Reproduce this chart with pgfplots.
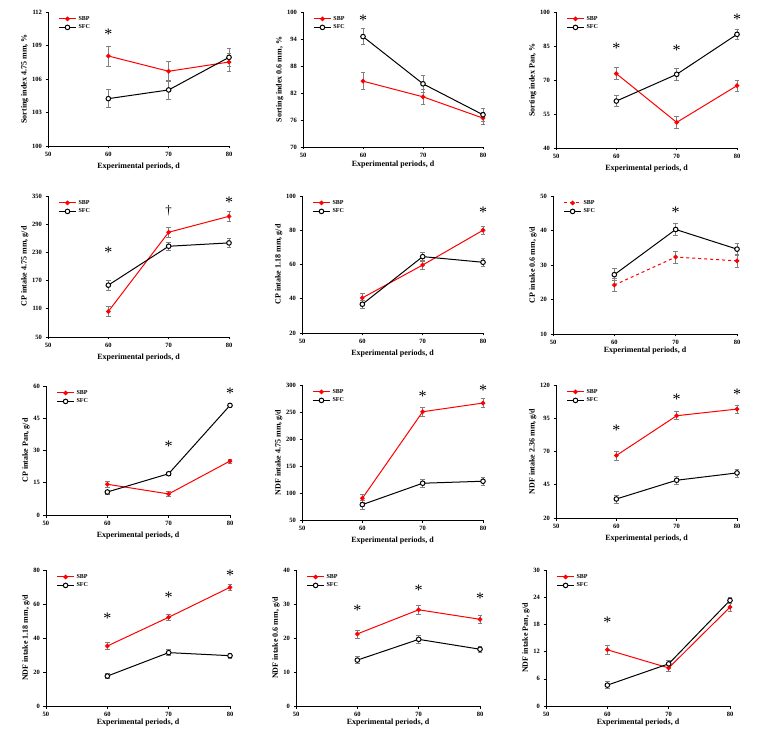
\documentclass[border=0pt]{standalone}
\usepackage{fontspec}
\setmainfont{Liberation Serif}
\usepackage{pgfplots}
\pgfplotsset{compat=1.18}

\pgfplotsset{
  panel/.style={
    scale only axis, clip=false,
    anchor=south west,
    xmin=50, xmax=80, xtick={50,60,70,80},
    axis x line*=bottom, axis y line*=left,
    axis line style={-, line width=0.8pt},
    tick align=outside, major tick length=2.5pt,
    tick style={black, line width=0.6pt},
    /pgf/number format/assume math mode=true,
    ticklabel style={font=\fontsize{6.5}{7}\selectfont\bfseries},
    label style={font=\fontsize{8}{9}\selectfont\bfseries},
    xlabel={Experimental periods, d},
    xlabel style={yshift=0pt},
    ylabel style={yshift=-3pt},
    legend style={at={(0.04,1.0)}, anchor=north west, draw=none, fill=none,
      font=\fontsize{6}{7}\selectfont\bfseries, row sep=-1pt,
      legend cell align=left},
  },
  sbp/.style={red, line width=1pt, mark=*, mark size=1.8pt,
    mark options={solid, fill=red},
    error bars/.cd, y dir=both, y explicit,
    error bar style={gray, line width=0.6pt, solid},
    error mark options={gray, rotate=90, mark size=2.3pt, line width=0.6pt},
    /pgfplots/.cd},
  sfc/.style={black, line width=1pt, mark=*, mark size=2.3pt,
    mark options={solid, fill=white},
    error bars/.cd, y dir=both, y explicit,
    error bar style={gray, line width=0.6pt, solid},
    error mark options={gray, rotate=90, mark size=2.3pt, line width=0.6pt},
    /pgfplots/.cd},
}
\tikzset{sig/.style={font=\fontsize{16}{16}\selectfont, inner sep=0pt}}

\begin{document}
\begin{tikzpicture}
\useasboundingbox (0pt,0pt) rectangle (762pt,734pt);

% row 1
\begin{axis}[panel, at={(48pt,588pt)}, width=181pt, height=134pt,
  ymin=100, ymax=112, ytick={100,103,106,109,112},
  ylabel={Sorting index 4.75 mm, \%}]
\addplot[sbp] coordinates {(60,108.06) +- (0,0.9) (70,106.69) +- (0,0.86) (80,107.52) +- (0,0.8)};
\addplot[sfc] coordinates {(60,104.24) +- (0,0.8) (70,105.02) +- (0,0.85) (80,107.94) +- (0,0.8)};
\legend{SBP,SFC}
\node[sig] at (axis cs:60,110.0) {*};
\end{axis}

\begin{axis}[panel, at={(303pt,587pt)}, width=180pt, height=135pt,
  ymin=70, ymax=100, ytick={70,76,82,88,94,100},
  ylabel={Sorting index 0.6 mm, \%}, xlabel style={yshift=3pt}]
\addplot[sbp] coordinates {(60,84.63) +- (0,1.9) (70,81.15) +- (0,1.7) (80,76.42) +- (0,1.3)};
\addplot[sfc] coordinates {(60,94.53) +- (0,1.8) (70,84.04) +- (0,1.8) (80,77.16) +- (0,1.5)};
\legend{SBP,SFC}
\node[sig] at (axis cs:60,98.2) {*};
\end{axis}

\begin{axis}[panel, at={(556pt,586pt)}, width=181pt, height=136pt,
  ymin=40, ymax=100, ytick={40,55,70,85,100},
  ylabel={Sorting index Pan, \%}]
\addplot[sbp] coordinates {(60,72.8) +- (0,2.6) (70,51.3) +- (0,2.5) (80,67.5) +- (0,2.5)};
\addplot[sfc] coordinates {(60,60.7) +- (0,2.4) (70,72.5) +- (0,2.5) (80,90.15) +- (0,2.4)};
\legend{SBP,SFC}
\node[sig] at (axis cs:60,83.8) {*};
\node[sig] at (axis cs:70,83.3) {*};
\node[sig] at (axis cs:80,96.6) {*};
\end{axis}

% row 2
\begin{axis}[panel, at={(48pt,397pt)}, width=181pt, height=141pt,
  ymin=50, ymax=350, ytick={50,110,170,230,290,350},
  ylabel={CP intake 4.75 mm, g/d}]
\addplot[sbp] coordinates {(60,104.4) +- (0,10) (70,272.9) +- (0,10) (80,306.8) +- (0,10)};
\addplot[sfc] coordinates {(60,160.3) +- (0,10) (70,243.1) +- (0,9) (80,250.2) +- (0,10)};
\legend{SBP,SFC}
\node[sig] at (axis cs:60,230) {*};
\node[sig, font=\fontsize{13}{13}\selectfont] at (axis cs:70,319) {†};
\node[sig] at (axis cs:80,336) {*};
\end{axis}

\begin{axis}[panel, at={(302pt,401pt)}, width=181pt, height=137pt,
  ymin=20, ymax=100, ytick={20,40,60,80,100},
  ylabel={CP intake 1.18 mm, g/d}]
\addplot[sbp] coordinates {(60,40.5) +- (0,2.5) (70,59.7) +- (0,2.5) (80,80.0) +- (0,2.5)};
\addplot[sfc] coordinates {(60,36.8) +- (0,2.5) (70,64.6) +- (0,2.5) (80,61.3) +- (0,2.5)};
\legend{SBP,SFC}
\node[sig] at (axis cs:80,90.5) {*};
\end{axis}

\begin{axis}[panel, at={(553pt,400pt)}, width=184pt, height=138pt,
  ymin=10, ymax=50, ytick={10,20,30,40,50},
  ylabel={CP intake 0.6 mm, g/d}, xlabel style={yshift=4pt}]
\addplot[sbp, dashed] coordinates {(60,24.2) +- (0,1.8) (70,32.3) +- (0,1.7) (80,31.2) +- (0,1.8)};
\addplot[sfc] coordinates {(60,27.2) +- (0,1.7) (70,40.3) +- (0,1.8) (80,34.6) +- (0,1.8)};
\legend{SBP,SFC}
\node[sig] at (axis cs:70,45.4) {*};
\end{axis}

% row 3
\begin{axis}[panel, at={(46pt,219pt)}, width=184pt, height=129pt,
  ymin=0, ymax=60, ytick={0,15,30,45,60},
  ylabel={CP intake Pan, g/d}]
\addplot[sbp] coordinates {(60,14.3) +- (0,1.5) (70,9.8) +- (0,1.0) (80,25.1) +- (0,1.0)};
\addplot[sfc] coordinates {(60,10.7) +- (0,1.0) (70,19.2) +- (0,0.8) (80,51.0) +- (0,0.8)};
\legend{SBP,SFC}
\node[sig] at (axis cs:70,32.0) {*};
\node[sig] at (axis cs:80,56.8) {*};
\end{axis}

\begin{axis}[panel, at={(302pt,214pt)}, width=181pt, height=135pt,
  ymin=50, ymax=300, ytick={50,100,150,200,250,300},
  ylabel={NDF intake 4.75 mm, g/d}]
\addplot[sbp] coordinates {(60,90.2) +- (0,8) (70,250.5) +- (0,8) (80,266.6) +- (0,8)};
\addplot[sfc] coordinates {(60,78.5) +- (0,8) (70,118.1) +- (0,8) (80,121.8) +- (0,8)};
\legend{SBP,SFC}
\node[sig] at (axis cs:70,279) {*};
\node[sig] at (axis cs:80,289.5) {*};
\end{axis}

\begin{axis}[panel, at={(556pt,216pt)}, width=181pt, height=133pt,
  ymin=20, ymax=120, ytick={20,45,70,95,120},
  ylabel={NDF intake 2.36 mm, g/d}]
\addplot[sbp] coordinates {(60,67.0) +- (0,3.5) (70,96.9) +- (0,3) (80,101.9) +- (0,3)};
\addplot[sfc] coordinates {(60,34.3) +- (0,3) (70,48.4) +- (0,3) (80,53.9) +- (0,3)};
\legend{SBP,SFC}
\node[sig] at (axis cs:60,85.6) {*};
\node[sig] at (axis cs:70,109.0) {*};
\node[sig] at (axis cs:80,113.4) {*};
\end{axis}

% row 4
\begin{axis}[panel, at={(46pt,28pt)}, width=184pt, height=136pt,
  ymin=0, ymax=80, ytick={0,20,40,60,80},
  ylabel={NDF intake 1.18 mm, g/d}, xlabel style={yshift=4pt}]
\addplot[sbp] coordinates {(60,35.3) +- (0,2) (70,52.2) +- (0,2) (80,69.8) +- (0,1.5)};
\addplot[sfc] coordinates {(60,17.6) +- (0,1.5) (70,31.4) +- (0,1.8) (80,29.6) +- (0,1.5)};
\legend{SBP,SFC}
\node[sig] at (axis cs:60,51.8) {*};
\node[sig] at (axis cs:70,64.0) {*};
\node[sig] at (axis cs:80,76.8) {*};
\end{axis}

\begin{axis}[panel, at={(296pt,28pt)}, width=184pt, height=136pt,
  ymin=0, ymax=40, ytick={0,10,20,30,40},
  ylabel={NDF intake 0.6 mm, g/d}, xlabel style={yshift=4pt}]
\addplot[sbp] coordinates {(60,21.2) +- (0,1.2) (70,28.3) +- (0,1.2) (80,25.5) +- (0,1.2)};
\addplot[sfc] coordinates {(60,13.5) +- (0,1.0) (70,19.6) +- (0,1.2) (80,16.7) +- (0,1.0)};
\legend{SBP,SFC}
\node[sig] at (axis cs:60,28.2) {*};
\node[sig] at (axis cs:70,33.9) {*};
\node[sig] at (axis cs:80,31.6) {*};
\end{axis}

\begin{axis}[panel, at={(546pt,28pt)}, width=184pt, height=136pt,
  ymin=0, ymax=30, ytick={0,6,12,18,24,30},
  ylabel={NDF intake Pan, g/d}, xlabel style={yshift=4pt}]
\addplot[sbp] coordinates {(60,12.4) +- (0,0.9) (70,8.4) +- (0,0.8) (80,21.8) +- (0,0.8)};
\addplot[sfc] coordinates {(60,4.6) +- (0,0.8) (70,9.3) +- (0,0.8) (80,23.3) +- (0,0.7)};
\legend{SBP,SFC}
\node[sig] at (axis cs:60,18.5) {*};
\end{axis}
\end{tikzpicture}
\end{document}
